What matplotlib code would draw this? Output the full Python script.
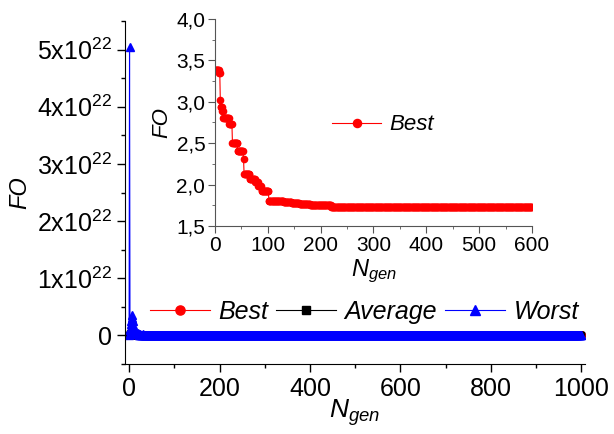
import numpy as np
import matplotlib
matplotlib.use("Agg")
import matplotlib.pyplot as plt
from matplotlib.ticker import MultipleLocator, FuncFormatter

plt.rcParams['font.family'] = ['Liberation Sans', 'DejaVu Sans']
plt.rcParams['mathtext.fontset'] = 'custom'
plt.rcParams['mathtext.rm'] = 'Liberation Sans'
plt.rcParams['mathtext.it'] = 'Liberation Sans:italic'

# Best: step plateaus (start generation, FO value)
best_start = [0, 8, 10, 11, 14, 16, 27, 33, 43, 54, 55, 66, 76, 82, 88, 91, 102,
              130, 145, 160, 180, 220, 260]
best_value = [3.38, 3.35, 3.02, 2.94, 2.89, 2.81, 2.73, 2.50, 2.41, 2.31, 2.13,
              2.07, 2.03, 1.98, 1.92, 1.92, 1.80, 1.79, 1.78, 1.765, 1.75, 1.735, 1.73]
n_gen_total = 1001

# Worst / Average early generations (x1e22), ~0 afterwards
worst_early = [0.0, 5.05, 0.10, 0.12, 0.20, 0.25, 0.30, 0.36, 0.25, 0.18, 0.12,
               0.08, 0.06, 0.05, 0.04, 0.03, 0.05, 0.02, 0.03, 0.02, 0.04,
               0.01, 0.02, 0.01, 0.01, 0.02, 0.01, 0.01, 0.01, 0.01, 0.02]
avg_early = [0.0, 0.05, 0.03, 0.03, 0.04, 0.05, 0.06, 0.05, 0.04, 0.03, 0.02]

gen = np.arange(n_gen_total)
lengths = np.diff(best_start + [n_gen_total])
best = np.repeat(best_value, lengths)
worst = np.concatenate([worst_early, np.zeros(n_gen_total - len(worst_early))]) * 1e22
average = np.concatenate([avg_early, np.zeros(n_gen_total - len(avg_early))]) * 1e22

fig = plt.figure(figsize=(6.14, 4.34), dpi=100)
ax = fig.add_axes([0.2036, 0.1613, 0.7492, 0.7903])

ax.plot(gen, best * 0, color='red', marker='o', ms=5.5, lw=0.8, label='Best')
ax.plot(gen, average, color='black', marker='s', ms=5, lw=0.8, label='Average')
ax.plot(gen, worst, color='blue', marker='^', ms=5.5, lw=0.8, label='Worst')

ax.set_xlim(-9, 1008)
ax.set_ylim(-0.5e22, 5.5e22)
ax.spines['top'].set_visible(False)
ax.spines['right'].set_visible(False)
ax.xaxis.set_major_locator(MultipleLocator(200))
ax.xaxis.set_minor_locator(MultipleLocator(100))
ax.yaxis.set_major_locator(MultipleLocator(1e22))
ax.yaxis.set_minor_locator(MultipleLocator(0.5e22))


def sci_fmt(v, pos):
    k = int(round(v / 1e22))
    if k == 0:
        return '0'
    return '%dx10$^{22}$' % k


ax.yaxis.set_major_formatter(FuncFormatter(sci_fmt))
ax.tick_params(which='both', direction='out', labelsize=18, width=1)
ax.tick_params(which='major', length=6)
ax.tick_params(which='minor', length=3)
ax.set_ylabel('FO', style='italic', fontsize=17, labelpad=4)
ax.set_xlabel(r'$\mathit{N}_{gen}$', fontsize=19, labelpad=-3)

ax.legend(loc='center', bbox_to_anchor=(0.52, 0.152), ncol=3, frameon=False,
          prop={'style': 'italic', 'size': 18}, handlelength=2.4,
          handletextpad=0.35, columnspacing=0.3, borderpad=0, numpoints=1,
          markerscale=1.2)

# inset
ins = fig.add_axes([0.3502, 0.4793, 0.5162, 0.4769])
ins.patch.set_alpha(0)
ins.plot(gen[:601], best[:601], color='red', marker='o', ms=4.5, lw=0.8, label='Best')
ins.set_xlim(0, 600)
ins.set_ylim(1.5, 4.0)
ins.spines['top'].set_visible(False)
ins.spines['right'].set_visible(False)
for s in ['left', 'bottom']:
    ins.spines[s].set_color('#555555')
ins.xaxis.set_major_locator(MultipleLocator(100))
ins.xaxis.set_minor_locator(MultipleLocator(50))
ins.yaxis.set_major_locator(MultipleLocator(0.5))
ins.yaxis.set_minor_locator(MultipleLocator(0.25))
ins.yaxis.set_major_formatter(FuncFormatter(lambda v, p: ('%.1f' % v).replace('.', ',')))
ins.tick_params(which='both', direction='out', labelsize=15, colors='#555555',
                labelcolor='black', pad=2)
ins.tick_params(which='major', length=5)
ins.tick_params(which='minor', length=2.5)
ins.set_ylabel('FO', style='italic', fontsize=16, labelpad=3)
ins.set_xlabel(r'$\mathit{N}_{gen}$', fontsize=17, labelpad=2)
ins.legend(loc='center left', bbox_to_anchor=(0.37, 0.488), frameon=False,
           prop={'style': 'italic', 'size': 16}, handlelength=2.2,
           handletextpad=0.35, borderpad=0, borderaxespad=0, numpoints=1,
           markerscale=1.3)

fig.savefig('out.png', dpi=100)
